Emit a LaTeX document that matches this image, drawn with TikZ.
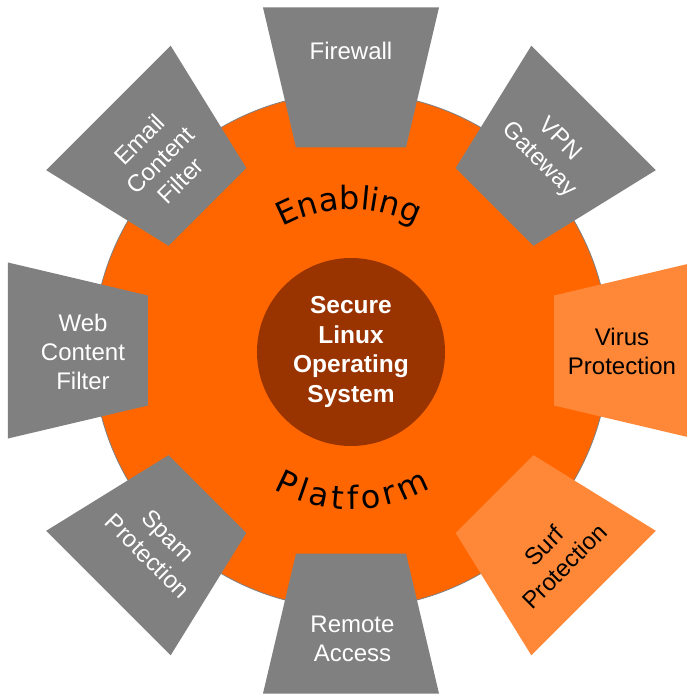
\documentclass[tikz,border=0pt]{standalone}
\usepackage{fontspec}
\setmainfont{Liberation Sans}
\newfontfamily\arcfont{DejaVu Sans}
\usetikzlibrary{decorations.text}
\definecolor{orangemain}{HTML}{FF6600}
\definecolor{greybox}{HTML}{808080}
\definecolor{lightorange}{HTML}{FF8838}
\definecolor{corebrown}{HTML}{993300}
\newcommand{\arcstyle}{\arcfont\fontsize{32}{32}\selectfont}
\begin{document}
\begin{tikzpicture}[x=1pt,y=1pt,
  seg/.style={fill=#1},
  lbl/.style={align=center, font=\fontsize{24}{29}\selectfont, text=white, inner sep=0pt},
  lblh/.style={lbl, text=black},
  arctext/.style={decorate, decoration={text along path, text={#1}, text align={fit to path}}}]
\useasboundingbox (-351,-347.5) rectangle (335,350.5);
\fill[orangemain, draw=greybox, line width=0.8] (0,0) circle[radius=258];
\foreach \a/\c in {90/greybox,45/greybox,0/lightorange,-45/lightorange,-90/greybox,-135/greybox,180/greybox,135/greybox}
  \fill[seg=\c, rotate=\a] (203,-55) -- (343,-88) -- (343,88) -- (203,55) -- cycle;
\node[circle, fill=corebrown, minimum size=188, inner sep=0pt, align=center, text=white,
      font=\bfseries\fontsize{24.5}{29.5}\selectfont] (core) at (0,-1.5) {Secure\\Linux\\Operating\\System};
{\arcstyle
\path[arctext=Enabling] (119:141) arc[start angle=119, end angle=64, radius=141];
\path[arctext=Platform] (241:159) arc[start angle=241, end angle=300, radius=159];
}
\node[lbl] (firewall) at (0,299.5) {Firewall};
\node[lbl, rotate=-45] (vpn) at (198,200.5) {VPN\\Gateway};
\node[lblh] (virus) at (271,-0.5) {Virus\\Protection};
\node[lblh, rotate=45] (surf) at (203,-205.5) {Surf\\Protection};
\node[lbl] (remote) at (1.5,-288.5) {Remote\\Access};
\node[lbl, rotate=-45] (spam) at (-193,-195.5) {Spam\\Protection};
\node[lbl] (web) at (-268,-1) {Web\\Content\\Filter};
\node[lbl, rotate=45] (email) at (-191,190.5) {Email\\Content\\Filter};
\end{tikzpicture}
\end{document}
